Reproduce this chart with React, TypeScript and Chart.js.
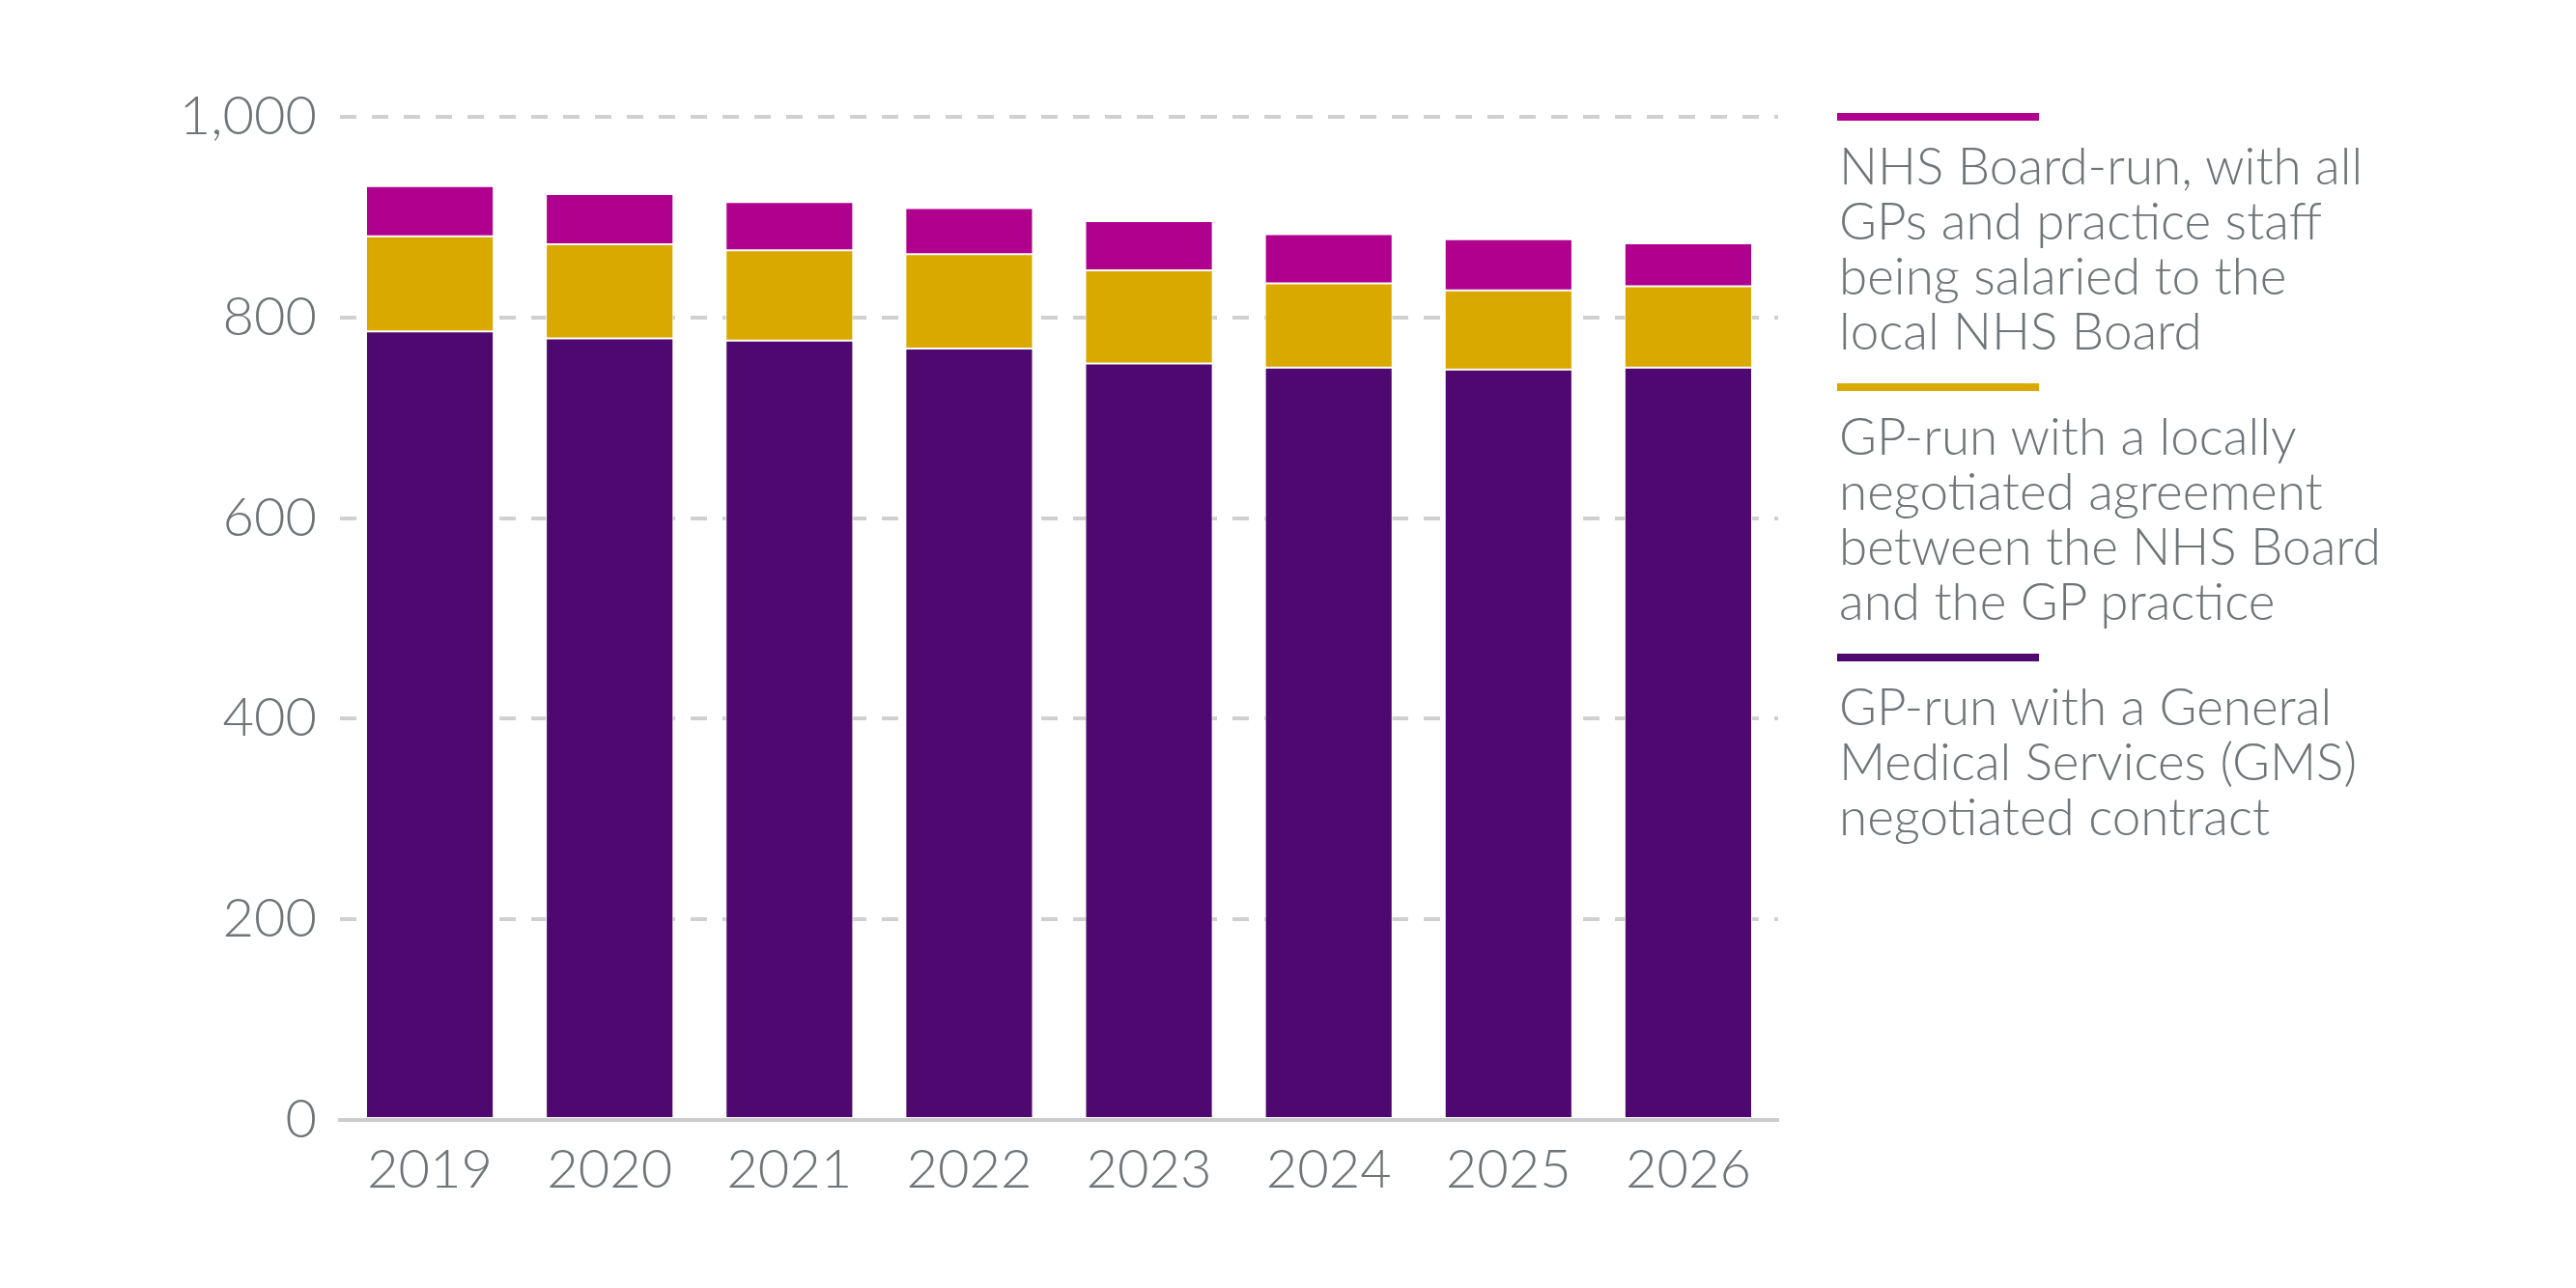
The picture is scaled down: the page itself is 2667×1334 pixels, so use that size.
import React, { useRef, useEffect, FC } from 'react';
import { Chart, registerables } from 'chart.js';

Chart.register(...registerables);

// data
const years = ['2019', '2020', '2021', '2022', '2023', '2024', '2025', '2026'];
const gmsContract = [786, 779, 777, 769, 754, 750, 748, 750];
const localAgreement = [95, 94, 90, 94, 93, 84, 79, 81];
const boardRun = [50, 50, 48, 46, 49, 49, 51, 43];

const seriesLabels = [
  'GP-run with a General\nMedical Services (GMS)\nnegotiated contract',
  'GP-run with a locally\nnegotiated agreement\nbetween the NHS Board\nand the GP practice',
  'NHS Board-run, with all\nGPs and practice staff\nbeing salaried to the\nlocal NHS Board',
];
const seriesColors = ['#4f0870', '#d9a900', '#b0008e'];

const yTicks = [0, 200, 400, 600, 800, 1000];

const TEXT = '#6e7478';
const FONT = 'Lato, "Open Sans", sans-serif';

const App: FC = () => {
  const chartRef = useRef<HTMLCanvasElement>(null);

  useEffect(() => {
    const ctx = chartRef.current?.getContext('2d');
    if (!ctx) return;
    const values = [gmsContract, localAgreement, boardRun];
    const myChart = new Chart(ctx, {
      type: 'bar',
      data: {
        labels: years,
        datasets: values.map((data, i) => ({
          label: seriesLabels[i],
          data,
          backgroundColor: seriesColors[i],
          borderColor: '#ffffff',
          borderWidth: 1,
          borderSkipped: false,
          barPercentage: 0.71,
          categoryPercentage: 1,
        })),
      },
      options: {
        animation: false,
        responsive: false,
        devicePixelRatio: 1,
        layout: { padding: { top: 121, right: 826, bottom: 0, left: 0 } },
        plugins: {
          legend: { display: false },
          tooltip: { enabled: false },
        },
        scales: {
          x: {
            stacked: true,
            afterFit: (scale: any) => {
              scale.height = 174;
            },
            grid: { display: false, drawTicks: false },
            border: { display: true, color: '#cccccc', width: 4 },
            ticks: {
              color: TEXT,
              font: { family: FONT, size: 56, weight: '300' },
              padding: 18,
            },
          },
          y: {
            stacked: true,
            min: yTicks[0],
            max: yTicks[yTicks.length - 1],
            afterFit: (scale: any) => {
              scale.width = 352;
            },
            afterBuildTicks: (scale: any) => {
              scale.ticks = yTicks.map((v) => ({ value: v }));
            },
            grid: {
              color: '#d0d0d0',
              lineWidth: 4,
              drawTicks: false,
            },
            border: { display: false, dash: [17, 16] },
            ticks: {
              color: TEXT,
              font: { family: FONT, size: 56, weight: '300' },
              padding: 24,
              callback: (v: any) => Number(v).toLocaleString('en-GB'),
            },
          },
        },
      },
    });

    return () => {
      myChart.destroy();
    };
  }, []);

  // legend drawn top to bottom in reverse stack order
  const legendOrder = [2, 1, 0];
  const legendTops = [117, 397, 677];

  return (
    <div
      style={{
        position: 'absolute',
        left: 0,
        top: 0,
        width: 2667,
        height: 1334,
        background: '#ffffff',
        overflow: 'hidden',
      }}
    >
      <canvas ref={chartRef} width={2667} height={1334} style={{ width: 2667, height: 1334 }} />
      {legendOrder.map((idx, i) => (
        <div
          key={idx}
          style={{ position: 'absolute', left: 1902, top: legendTops[i], width: 720 }}
        >
          <div style={{ width: 209, height: 8, background: seriesColors[idx] }} />
          <div
            style={{
              marginTop: 17,
              marginLeft: 2,
              fontFamily: FONT,
              fontSize: 53,
              fontWeight: 300,
              lineHeight: '57px',
              color: TEXT,
              whiteSpace: 'pre',
            }}
          >
            {seriesLabels[idx]}
          </div>
        </div>
      ))}
    </div>
  );
};

export default App;
